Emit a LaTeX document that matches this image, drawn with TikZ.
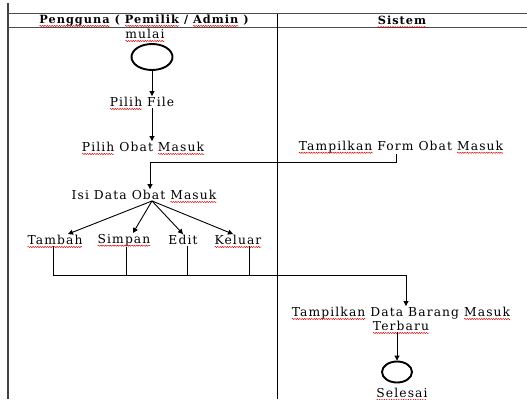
\documentclass[tikz,border=0pt]{standalone}
\usepackage{fontspec}
\setmainfont{DejaVu Serif}
\newfontfamily\lblfont[LetterSpace=9]{DejaVu Serif}
\newfontfamily\hdrfont[LetterSpace=9]{DejaVu Serif}
\usetikzlibrary{arrows.meta,decorations.pathmorphing,shapes.geometric}
\newcommand\sq[1]{\tikz[baseline=(w.base)]{\node[inner sep=0pt,outer sep=0pt](w){#1};\draw[overlay,red!85!black,line width=0.45pt,decorate,decoration={snake,amplitude=0.6pt,segment length=2.4pt}]([yshift=-2.4pt]w.base west)--([yshift=-2.4pt]w.base east);}}
\begin{document}
\begin{tikzpicture}[x=1pt,y=-1pt,
  lbl/.style={inner sep=1pt,font=\lblfont\fontsize{12.3}{14}\selectfont,align=center},
  hdr/.style={inner sep=0pt,font=\hdrfont\fontsize{11.3}{12}\selectfont\bfseries},
  conn/.style={line width=0.9pt},
  arr/.style={conn,-{Triangle[length=5pt,width=5pt]}},
  term/.style={ellipse,draw,line width=1.9pt,inner sep=0pt}]
\useasboundingbox (0,0) rectangle (527,399);
% table lines
\draw[line width=1.6pt,black!75] (8,3) -- (8,399);
\draw[line width=1.2pt,black!70] (8,13.5) -- (527,13.5);
\draw[line width=1.0pt,black!70] (8,27) -- (527,27);
\draw[line width=1.0pt] (277,13.5) -- (277,399);
\node[hdr] (h1) at (144,20.5) {\sq{Pengguna} ( \sq{Pemilik} / \sq{Admin} )};
\node[hdr] (h2) at (402,20.5) {\sq{Sistem}};
% nodes
\node[lbl] (mulai) at (145,34) {\sq{mulai}};
\node[term,minimum width=41pt,minimum height=26pt] (start) at (152,57) {};
\node[lbl] (pfile) at (142,102) {\sq{Pilih} File};
\node[lbl] (pobat) at (143,147) {\sq{Pilih} Obat \sq{Masuk}};
\node[lbl] (form) at (401,147) {\sq{Tampilkan} Form Obat \sq{Masuk}};
\node[lbl] (isi) at (144,195) {Isi Data Obat \sq{Masuk}};
\node[lbl] (tambah) at (55,240) {\sq{Tambah}};
\node[lbl] (simpan) at (124,240) {\sq{Simpan}};
\node[lbl] (edit) at (183,240) {Edit};
\node[lbl] (keluar) at (238,240) {\sq{Keluar}};
\node[lbl] (data) at (401,319) {\sq{Tampilkan} Data Barang \sq{Masuk}\\\sq{Terbaru}};
\node[term,minimum width=30pt,minimum height=21pt] (end) at (397,372) {};
\node[lbl] (selesai) at (402,393) {\sq{Selesai}};
\coordinate (bus) at (0,275);
% connectors
\draw[arr] (start.south) -- (start.south |- pfile.north);
\draw[arr] (start.south |- pfile.south) -- (start.south |- pobat.north);
\draw[arr] ([xshift=-5pt]form.south) -- ++(0,8) -| ([xshift=6pt]isi.north);
\draw[arr] ([xshift=8pt]isi.south) -- ([xshift=13pt]tambah.north);
\draw[arr] ([xshift=8pt]isi.south) -- ([xshift=9pt]simpan.north);
\draw[arr] ([xshift=8pt]isi.south) -- (edit.north);
\draw[arr] ([xshift=8pt]isi.south) -- ([xshift=-5pt]keluar.north);
\draw[arr] ([xshift=-2pt]tambah.south) |- ([xshift=5pt]data.north |- bus) -- ([xshift=5pt]data.north);
\draw[conn] ([xshift=2pt]simpan.south) -- ([xshift=2pt]simpan.south |- bus);
\draw[conn] ([xshift=4pt]edit.south) -- ([xshift=4pt]edit.south |- bus);
\draw[conn] ([xshift=11pt]keluar.south) -- ([xshift=11pt]keluar.south |- bus);
\draw[arr] ([xshift=-4pt]data.south) -- ([xshift=-4pt]data.south |- end.north);
\end{tikzpicture}
\end{document}
